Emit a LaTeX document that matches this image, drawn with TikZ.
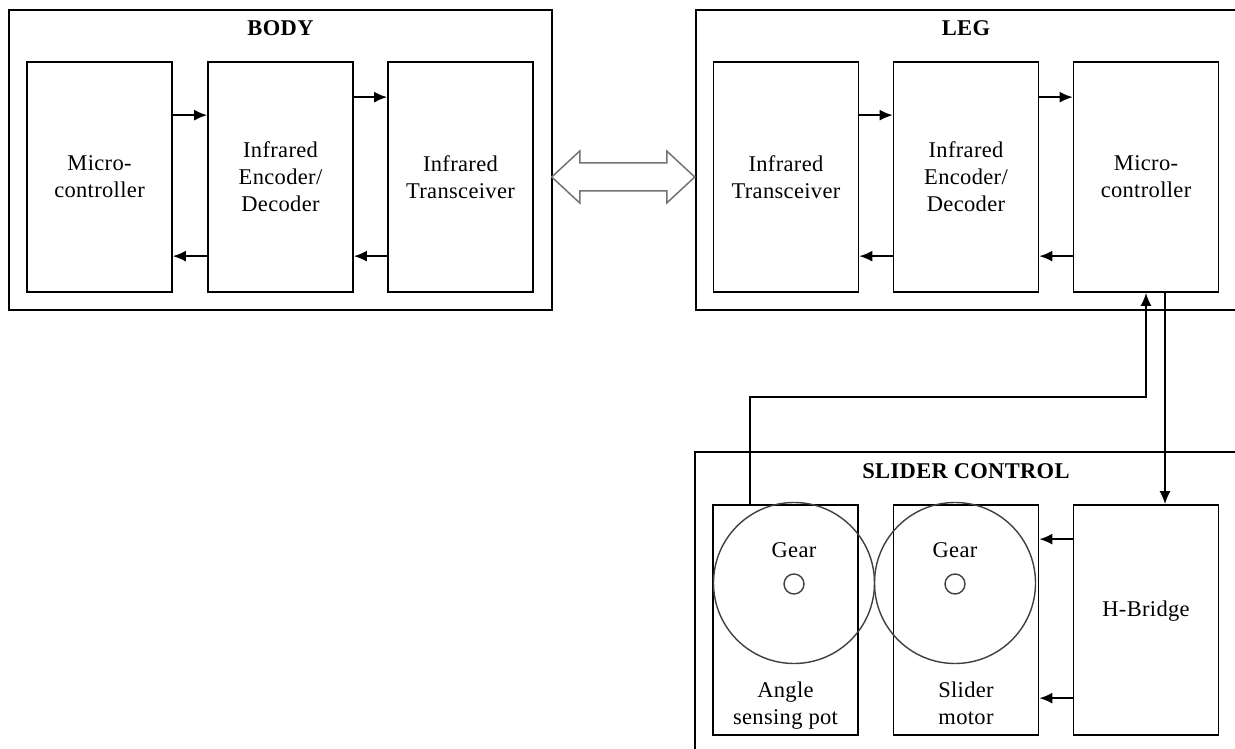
\documentclass[tikz,border=0pt]{standalone}
\usepackage{fontspec}
\setmainfont{Liberation Serif}[LetterSpace=1.5]
\usetikzlibrary{calc,arrows.meta}
\begin{document}
\begin{tikzpicture}[x=1pt,y=-1pt,
  every node/.style={font=\fontsize{22.5}{27}\selectfont, inner sep=0pt, align=center},
  group/.style={draw, line width=1.7pt},
  block/.style={draw, line width=1.7pt, minimum width=145pt, minimum height=230pt},
  title/.style={font=\bfseries\fontsize{22.5}{27}\selectfont},
  arr/.style={line width=1.7pt, -{Latex[length=13pt,width=11pt]}},
  gear/.style={circle, draw=black!75, line width=1.4pt, minimum size=161pt},
  hub/.style={circle, draw=black!75, line width=1.4pt, minimum size=20pt},
  caption/.style={anchor=base},
  link/.style={draw=black!55, line width=1.5pt, fill=white, line join=miter}]
\useasboundingbox (0,0) rectangle (1235,749);
\fill[white] (0,0) rectangle (1235,749);
\clip (0,0) rectangle (1235,749);

% group frames
\node[group, minimum width=543pt, minimum height=300pt] (body) at (280.5,160) {};
\node[group, minimum width=550pt, minimum height=300pt] (leg) at (971,160) {};
\node[group, minimum width=550pt, minimum height=310pt] (slider) at (970,607) {};
\node[title] (bodyt) at (280.5,28) {BODY};
\node[title] (legt) at (966,28) {LEG};
\node[title] (slidert) at (966,471) {SLIDER CONTROL};

% body blocks
\node[block] (bmc) at (99.5,177) {Micro-\\controller};
\node[block] (benc) at (280.5,177) {Infrared\\Encoder/\\Decoder};
\node[block] (btr) at (460.5,177) {Infrared\\Transceiver};

% leg blocks
\node[block] (ltr) at (786,177) {Infrared\\Transceiver};
\node[block] (lenc) at (966,177) {Infrared\\Encoder/\\Decoder};
\node[block] (lmc) at (1146,177) {Micro-\\controller};

% slider control blocks
\node[block] (ang) at (785.5,620) {};
\node[block] (mot) at (966,620) {};
\node[block] (hb) at (1146,620) {};
\node (hbl) at (1146,611) {H-Bridge};
\node[caption] (angl) at (785.5,724) {Angle\\sensing pot};
\node[caption] (motl) at (966,724) {Slider\\motor};

% gears
\node[gear] (g1) at (794,583) {};
\node[gear] (g2) at (955,583) {};
\node[hub] (h1) at (794,584) {};
\node[hub] (h2) at (955,584) {};
\node[caption] (g1l) at (794,557) {Gear};
\node[caption] (g2l) at (955,557) {Gear};

% body signal flow
\draw[arr] ([yshift=-54pt]bmc.north east) -- ([yshift=-54pt]benc.north west);
\draw[arr] ([yshift=-36pt]benc.north east) -- ([yshift=-36pt]btr.north west);
\draw[arr] ([yshift=-195pt]btr.north west) -- ([yshift=-195pt]benc.north east);
\draw[arr] ([yshift=-195pt]benc.north west) -- ([yshift=-195pt]bmc.north east);

% leg signal flow
\draw[arr] ([yshift=-54pt]ltr.north east) -- ([yshift=-54pt]lenc.north west);
\draw[arr] ([yshift=-36pt]lenc.north east) -- ([yshift=-36pt]lmc.north west);
\draw[arr] ([yshift=-195pt]lmc.north west) -- ([yshift=-195pt]lenc.north east);
\draw[arr] ([yshift=-195pt]lenc.north west) -- ([yshift=-195pt]ltr.north east);

% slider control flow
\draw[arr] ([yshift=-35pt]hb.north west) -- ([yshift=-35pt]mot.north east);
\draw[arr] ([yshift=-194pt]hb.north west) -- ([yshift=-194pt]mot.north east);
\draw[arr] ([xshift=-35.5pt]ang.north) -- ++(0,-107) -| (lmc.south);
\draw[arr] ([xshift=19pt]lmc.south) -- ([xshift=19pt]hb.north);

% infrared link between body and leg
\coordinate (lk) at ($(btr.east)!0.5!(ltr.west)$);
\draw[link] ([xshift=-71.5pt]lk) -- ++(28,-26) -- ++(0,12) -- ++(87,0) -- ++(0,-12)
  -- ++(28,26) -- ++(-28,26) -- ++(0,-12) -- ++(-87,0) -- ++(0,12) -- cycle;
\end{tikzpicture}
\end{document}
